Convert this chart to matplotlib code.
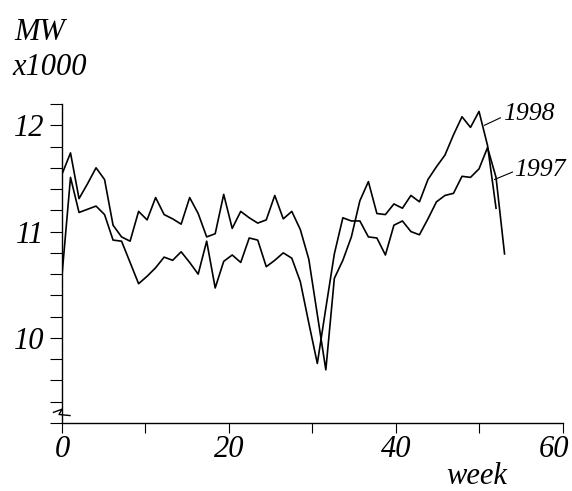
import numpy as np
import matplotlib
matplotlib.use("Agg")
import matplotlib.pyplot as plt
import matplotlib.transforms as mtransforms
from matplotlib.ticker import FixedLocator

# weekly load (MW x1000)
load_1997 = [10.59, 11.51, 11.18, 11.21, 11.24, 11.16, 10.92, 10.91, 10.71, 10.51,
             10.58, 10.66, 10.76, 10.73, 10.81, 10.71, 10.60, 10.91, 10.47, 10.72,
             10.78, 10.71, 10.94, 10.92, 10.67, 10.73, 10.80, 10.75, 10.53, 10.14,
             9.76, 10.28, 10.79, 11.13, 11.10, 11.10, 10.95, 10.94, 10.78, 11.06,
             11.10, 11.00, 10.97, 11.12, 11.28, 11.34, 11.36, 11.52, 11.51, 11.59,
             11.79, 11.51, 10.79]
load_1998 = [11.54, 11.74, 11.31, 11.45, 11.60, 11.49, 11.06, 10.95, 10.91, 11.19,
             11.11, 11.32, 11.16, 11.12, 11.07, 11.32, 11.17, 10.95, 10.98, 11.35,
             11.03, 11.19, 11.13, 11.08, 11.11, 11.34, 11.12, 11.19, 11.02, 10.74,
             10.22, 9.70, 10.56, 10.73, 10.95, 11.29, 11.47, 11.17, 11.16, 11.26,
             11.22, 11.34, 11.28, 11.49, 11.61, 11.72, 11.91, 12.08, 11.98, 12.13,
             11.81, 11.22]

# the samples are spread evenly over 53 weeks
week_1997 = np.arange(len(load_1997)) * 53 / 52
week_1998 = np.arange(len(load_1998)) * 53 / 52

serif = "Liberation Serif"
fs_tick = 22
fs_label = 22
fs_year = 18.5

fig = plt.figure(figsize=(5.72, 4.91), dpi=100)
ax = fig.add_axes([62 / 572, 1 - 423 / 491, 501 / 572, 319 / 491])

ax.plot(week_1997, load_1997, color="black", lw=1.2)
ax.plot(week_1998, load_1998, color="black", lw=1.2)

ax.set_xlim(0, 60)
ax.set_ylim(9.2, 12.2)
for side in ["top", "right"]:
    ax.spines[side].set_visible(False)
for side in ["left", "bottom"]:
    ax.spines[side].set_linewidth(1.0)

ax.xaxis.set_major_locator(FixedLocator([0, 20, 40, 60]))
ax.xaxis.set_minor_locator(FixedLocator([10, 30, 50]))
ax.yaxis.set_major_locator(FixedLocator([10, 11, 12]))
ax.yaxis.set_minor_locator(FixedLocator(np.round(np.arange(9.2, 12.21, 0.2), 1)))
ax.tick_params(axis="x", which="both", direction="out", length=7.5, width=0.8, pad=1)
ax.tick_params(axis="y", which="both", direction="out", length=8.5, width=0.8, pad=4)

for lab in ax.get_xticklabels() + ax.get_yticklabels():
    lab.set_fontfamily(serif)
    lab.set_fontstyle("italic")
    lab.set_fontsize(fs_tick)

# last x label is pulled in so it stays inside the figure
last = ax.get_xticklabels()[-1]
last.set_transform(last.get_transform() +
                   mtransforms.ScaledTranslation(-9 / 100, 0, fig.dpi_scale_trans))

# axis break mark near the bottom of the y axis
tr = ax.get_yaxis_transform()
ax.plot([-0.017, 0.0, -0.006, 0.016], [9.30, 9.33, 9.28, 9.27],
        color="black", lw=1.0, transform=tr, clip_on=False)

# unit and axis labels
fig.text(14 / 572, 1 - 40 / 491, "MW", fontfamily=serif, fontstyle="italic",
         fontsize=fs_label, va="baseline", ha="left")
fig.text(12 / 572, 1 - 75 / 491, "x1000", fontfamily=serif, fontstyle="italic",
         fontsize=fs_label, va="baseline", ha="left")
fig.text(446 / 572, 1 - 484 / 491, "week", fontfamily=serif, fontstyle="italic",
         fontsize=fs_label, va="baseline", ha="left")

# series labels with leader lines
ax.plot([50.6, 52.5], [12.0, 12.07], color="black", lw=0.8)
ax.text(52.8, 12.11, "1998", fontfamily=serif, fontstyle="italic",
        fontsize=fs_year, va="center", ha="left")
ax.plot([51.8, 53.95], [11.49, 11.56], color="black", lw=0.8, clip_on=False)
ax.text(54.2, 11.58, "1997", fontfamily=serif, fontstyle="italic",
        fontsize=fs_year, va="center", ha="left")

fig.savefig("out.png", dpi=100)
